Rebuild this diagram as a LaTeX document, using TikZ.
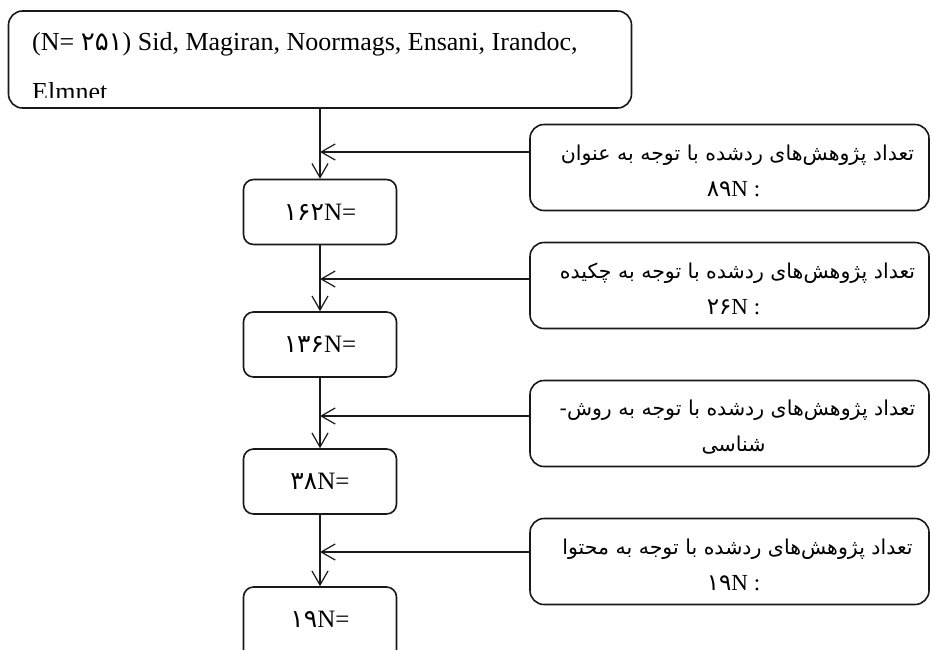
\documentclass[tikz,border=0pt]{standalone}
\usepackage{fontspec}
\setmainfont{Liberation Serif}
\newfontfamily\arfont[Script=Arabic]{DejaVu Sans}
\TeXXeTstate=1
\usetikzlibrary{arrows.meta}
\begin{document}
\begin{tikzpicture}[x=1pt,y=-1pt,
  box/.style={draw=black!90, line width=1.6pt, inner sep=0pt},
  bigbox/.style={box, rounded corners=14pt, minimum width=623pt, minimum height=97pt},
  smallbox/.style={box, rounded corners=10pt, minimum width=153pt, minimum height=65pt, font=\fontsize{25}{25}\selectfont},
  sidebox/.style={box, rounded corners=14pt, minimum width=399pt, minimum height=86pt, align=center, font=\fontsize{20.5}{36}\selectfont},
  toptext/.style={anchor=base west, inner sep=0pt, font=\fontsize{26}{26}\selectfont},
  conn/.style={draw=black!90, line width=1.2pt, -{Straight Barb[length=14pt,width=16pt]}},
]
\newcommand{\bigN}{\fontsize{23}{36}\selectfont}
\newcommand{\topstrut}{\rule{0pt}{22pt}}
\useasboundingbox (0,0) rectangle (931,649);
\clip (0,0) rectangle (931,649);
\fill[white] (0,0) rectangle (931,649);

\node[bigbox] (src) at (320,59.5) {};
\begin{scope}
  \clip (8,11) rectangle (632,97);
  \node[toptext] (t1) at (32,50) {(N= {\arfont ۲۵۱}) Sid, Magiran, Noormags, Ensani, Irandoc,};
  \node[toptext] (t2) at (32,100) {Elmnet};
\end{scope}

\node[smallbox] (b1) at (320,212) {{\arfont ۱۶۲}N=};
\node[smallbox] (b2) at (320,344.5) {{\arfont ۱۳۶}N=};
\node[smallbox] (b3) at (320,481.5) {{\arfont ۳۸}N=};
\node[smallbox, minimum height=90pt] (b4) at (320,632) {};
\node[font=\fontsize{25}{25}\selectfont, inner sep=0pt] (b4t) at (320,619.5) {{\arfont ۱۹}N=};

\node[sidebox] (r1) at (729.5,167.5) {\topstrut\hspace*{16pt}{\arfont\beginR تعداد پژوهش‌های ردشده با توجه به عنوان\endR}\\\hspace*{8pt}{\bigN{\arfont ۸۹}N :}};
\node[sidebox] (r2) at (729.5,285.5) {\topstrut\hspace*{16pt}{\arfont\beginR تعداد پژوهش‌های ردشده با توجه به چکیده\endR}\\\hspace*{8pt}{\bigN{\arfont ۲۶}N :}};
\node[sidebox] (r3) at (729.5,423.5) {\topstrut\hspace*{16pt}{\arfont\beginR تعداد پژوهش‌های ردشده با توجه به روش-\endR}\\\hspace*{8pt}{\arfont\beginR شناسی\endR}};
\node[sidebox] (r4) at (729.5,561.5) {\topstrut\hspace*{16pt}{\arfont\beginR تعداد پژوهش‌های ردشده با توجه به محتوا\endR}\\\hspace*{8pt}{\bigN{\arfont ۱۹}N :}};

\coordinate (j1) at (320,152);
\coordinate (j2) at (320,279);
\coordinate (j3) at (320,416);
\coordinate (j4) at (320,552);

\draw[conn] (src.south) -- (b1.north);
\draw[conn] (b1.south) -- (b2.north);
\draw[conn] (b2.south) -- (b3.north);
\draw[conn] (b3.south) -- (b4.north);

\draw[conn] (r1.west |- j1) -- (j1);
\draw[conn] (r2.west |- j2) -- (j2);
\draw[conn] (r3.west |- j3) -- (j3);
\draw[conn] (r4.west |- j4) -- (j4);
\end{tikzpicture}
\end{document}
